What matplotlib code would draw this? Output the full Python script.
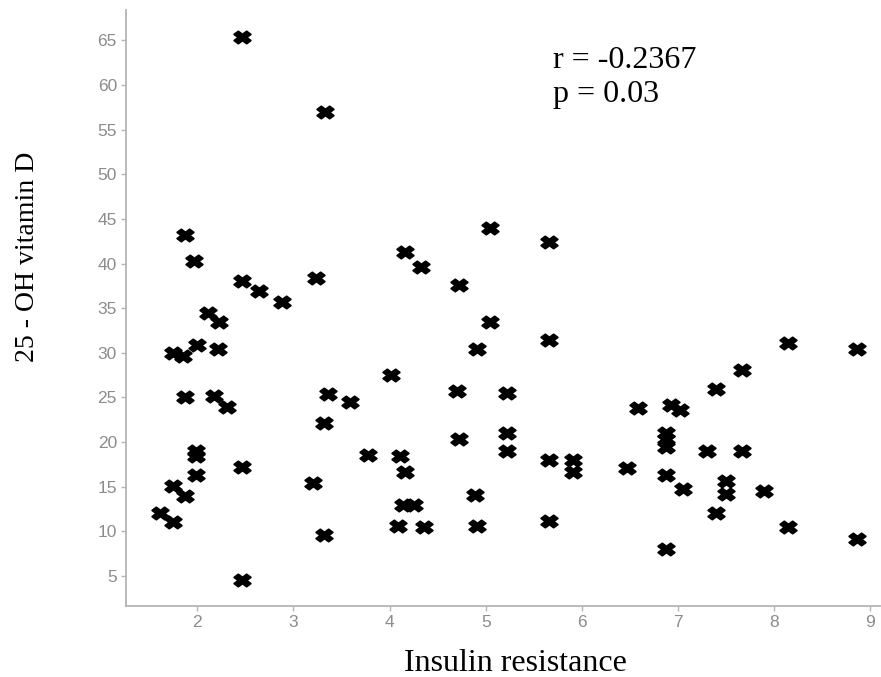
import matplotlib
matplotlib.use('Agg')
import matplotlib.pyplot as plt
from matplotlib.markers import MarkerStyle
from matplotlib.path import Path

# insulin resistance (x) and 25-OH vitamin D (y)
insulin = [2.47, 3.33, 1.87, 1.97, 4.16, 4.33, 2.47, 2.64, 2.88, 3.24,
           2.11, 2.23, 5.04, 5.66, 4.72, 5.04, 5.66, 4.91, 8.14, 8.86,
           7.66, 4.70, 5.22, 7.39, 6.58, 6.93, 7.02, 4.72, 5.22, 5.22,
           6.87, 6.87, 6.87, 7.30, 7.66, 5.66, 5.91, 5.91, 6.47, 6.87,
           7.05, 7.50, 7.50, 7.89, 4.89, 4.91, 5.66, 7.39, 8.14, 8.86,
           6.87, 1.75, 1.85, 2.00, 2.22, 1.87, 2.18, 2.31, 1.99, 1.99,
           1.99, 2.47, 1.75, 1.87, 1.61, 1.75, 2.47, 3.20, 3.32, 3.36,
           3.59, 3.78, 3.32, 4.02, 4.11, 4.16, 4.14, 4.25, 4.09, 4.36]
vitd = [65.4, 57.0, 43.2, 40.3, 41.3, 39.6, 38.0, 36.9, 35.7, 38.4,
        34.5, 33.4, 44.0, 42.4, 37.6, 33.4, 31.4, 30.4, 31.1, 30.4,
        28.1, 25.7, 25.5, 25.9, 23.8, 24.2, 23.6, 20.3, 21.0, 19.0,
        21.0, 20.3, 19.5, 19.0, 19.0, 18.0, 18.0, 16.7, 17.1, 16.3,
        14.7, 15.6, 14.2, 14.5, 14.1, 10.6, 11.2, 12.1, 10.5, 9.1,
        8.0, 30.0, 29.7, 30.9, 30.4, 25.0, 25.2, 23.9, 19.0, 18.4,
        16.3, 17.2, 15.1, 14.0, 12.0, 11.0, 4.6, 15.4, 22.1, 25.4,
        24.5, 18.6, 9.6, 27.5, 18.4, 16.6, 12.9, 12.9, 10.6, 10.5]

xticks = [2, 3, 4, 5, 6, 7, 8, 9]
yticks = [5, 10, 15, 20, 25, 30, 35, 40, 45, 50, 55, 60, 65]

grey = '#8c8c8c'
serif = ['Liberation Serif', 'DejaVu Serif']

# the original looks stretched sideways, so widen the filled X marker
base = MarkerStyle('X').get_path()
verts = base.vertices.copy()
verts[:, 0] *= 1.35
wide_x = Path(verts, base.codes)

fig = plt.figure(figsize=(8.81, 6.77), dpi=100)
ax = fig.add_axes([0.143, 0.105, 0.856, 0.880])

ax.plot(insulin, vitd, linestyle='none', marker=wide_x, markersize=12,
        color='black', markeredgecolor='black', markeredgewidth=1.3)

ax.set_xlim(1.26, 9.1)
ax.set_ylim(1.64, 68.4)
ax.set_xticks(xticks)
ax.set_yticks(yticks)

for side in ['top', 'right']:
    ax.spines[side].set_visible(False)
for side in ['left', 'bottom']:
    ax.spines[side].set_color('#b4b4b4')
    ax.spines[side].set_linewidth(1.3)

ax.tick_params(axis='both', colors='#b4b4b4', labelcolor=grey, length=3.5,
               width=1, pad=3)
for lab in ax.get_xticklabels() + ax.get_yticklabels():
    lab.set_family(['Liberation Sans', 'DejaVu Sans'])
    lab.set_fontsize(12.5)

ax.set_xlabel('Insulin resistance', family=serif, fontsize=23, color='black',
              va='center')
ax.xaxis.set_label_coords(0.516, -0.096)
ax.set_ylabel('25 - OH vitamin D', family=serif, fontsize=20, color='black',
              va='center')
ax.yaxis.set_label_coords(-0.13, 0.586)

ax.text(5.70, 62.8, 'r = -0.2367', family=serif, fontsize=23, va='center',
        ha='left')
ax.text(5.70, 58.9, 'p = 0.03', family=serif, fontsize=23, va='center',
        ha='left')

fig.savefig('out.png', dpi=100)
